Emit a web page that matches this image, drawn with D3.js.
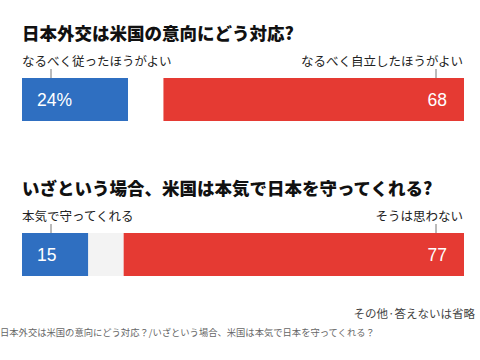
<!DOCTYPE html>
<html>
<head>
<meta charset="utf-8">
<script src="https://cdn.jsdelivr.net/npm/d3@7"></script>
<style>
  body { margin: 0; background: #fff; }
  svg { font-family: "Noto Sans CJK JP", "Noto Sans", sans-serif; }
</style>
</head>
<body>
<div id="chart"></div>
<script>
var width = 480, height = 360;

// data
var questions = ["日本外交は米国の意向にどう対応?", "いざという場合、米国は本気で日本を守ってくれる?"];
var leftLabels = ["なるべく従ったほうがよい", "本気で守ってくれる"];
var rightLabels = ["なるべく自立したほうがよい", "そうは思わない"];
var leftValues = [24, 15];
var rightValues = [68, 77];
var leftText = ["24%", "15"];
var otherFill = ["#ffffff", "#f3f3f3"];
var note = "その他·答えないは省略";
var caption = "日本外交は米国の意向にどう対応？/いざという場合、米国は本気で日本を守ってくれる？";

var x = d3.scaleLinear().domain([0, 100]).range([22, 464]);
var top0 = [0, 155]; // vertical offset per block

var svg = d3.select("#chart")
  .append("svg")
  .attr("width", width)
  .attr("height", height);

var blocks = svg.selectAll("g.block")
  .data(questions)
  .enter()
  .append("g")
  .attr("class", "block")
  .attr("transform", function(d, i) { return "translate(0," + top0[i] + ")"; });

// title
blocks.append("text")
  .attr("x", 22)
  .attr("y", 40)
  .attr("font-size", 17.5)
  .attr("font-weight", 900)
  .attr("fill", "#111")
  .text(function(d) { return d; });

// answer labels
blocks.append("text")
  .attr("x", 22)
  .attr("y", 66)
  .attr("font-size", 12.5)
  .attr("fill", "#222")
  .text(function(d, i) { return leftLabels[i]; });

blocks.append("text")
  .attr("x", 463)
  .attr("y", 66)
  .attr("text-anchor", "end")
  .attr("font-size", 12.5)
  .attr("fill", "#222")
  .text(function(d, i) { return rightLabels[i]; });

// leader ticks
blocks.append("line")
  .attr("x1", x(0) + 29).attr("x2", x(0) + 29)
  .attr("y1", 69).attr("y2", 78)
  .attr("stroke", "#777").attr("stroke-width", 1);

blocks.append("line")
  .attr("x1", x(100) - 28).attr("x2", x(100) - 28)
  .attr("y1", 69).attr("y2", 78)
  .attr("stroke", "#777").attr("stroke-width", 1);

// bars
var barY = 78, barH = 43;

blocks.append("rect")
  .attr("x", x(0))
  .attr("y", barY)
  .attr("width", function(d, i) { return x(leftValues[i]) - x(0); })
  .attr("height", barH)
  .attr("fill", "#2f6fc1");

blocks.append("rect")
  .attr("x", function(d, i) { return x(leftValues[i]); })
  .attr("y", barY)
  .attr("width", function(d, i) { return x(100 - rightValues[i]) - x(leftValues[i]); })
  .attr("height", barH)
  .attr("fill", function(d, i) { return otherFill[i]; });

blocks.append("rect")
  .attr("x", function(d, i) { return x(100 - rightValues[i]); })
  .attr("y", barY)
  .attr("width", function(d, i) { return x(100) - x(100 - rightValues[i]); })
  .attr("height", barH)
  .attr("fill", "#e53a33");

// value labels
blocks.append("text")
  .attr("x", x(0) + 15)
  .attr("y", barY + barH / 2 + 6)
  .attr("font-family", "Liberation Sans, Arial, sans-serif")
  .attr("font-size", 17.5)
  .attr("fill", "#fff")
  .text(function(d, i) { return leftText[i]; });

blocks.append("text")
  .attr("x", x(100) - 17)
  .attr("y", barY + barH / 2 + 6)
  .attr("text-anchor", "end")
  .attr("font-family", "Liberation Sans, Arial, sans-serif")
  .attr("font-size", 17.5)
  .attr("fill", "#fff")
  .text(function(d, i) { return rightValues[i]; });

// note
svg.append("text")
  .attr("x", 475)
  .attr("y", 318)
  .attr("text-anchor", "end")
  .attr("font-size", 11.5)
  .attr("fill", "#444")
  .text(note);

// caption
svg.append("text")
  .attr("x", 0)
  .attr("y", 336)
  .attr("font-size", 9.3)
  .attr("fill", "#666")
  .text(caption);
</script>
</body>
</html>
